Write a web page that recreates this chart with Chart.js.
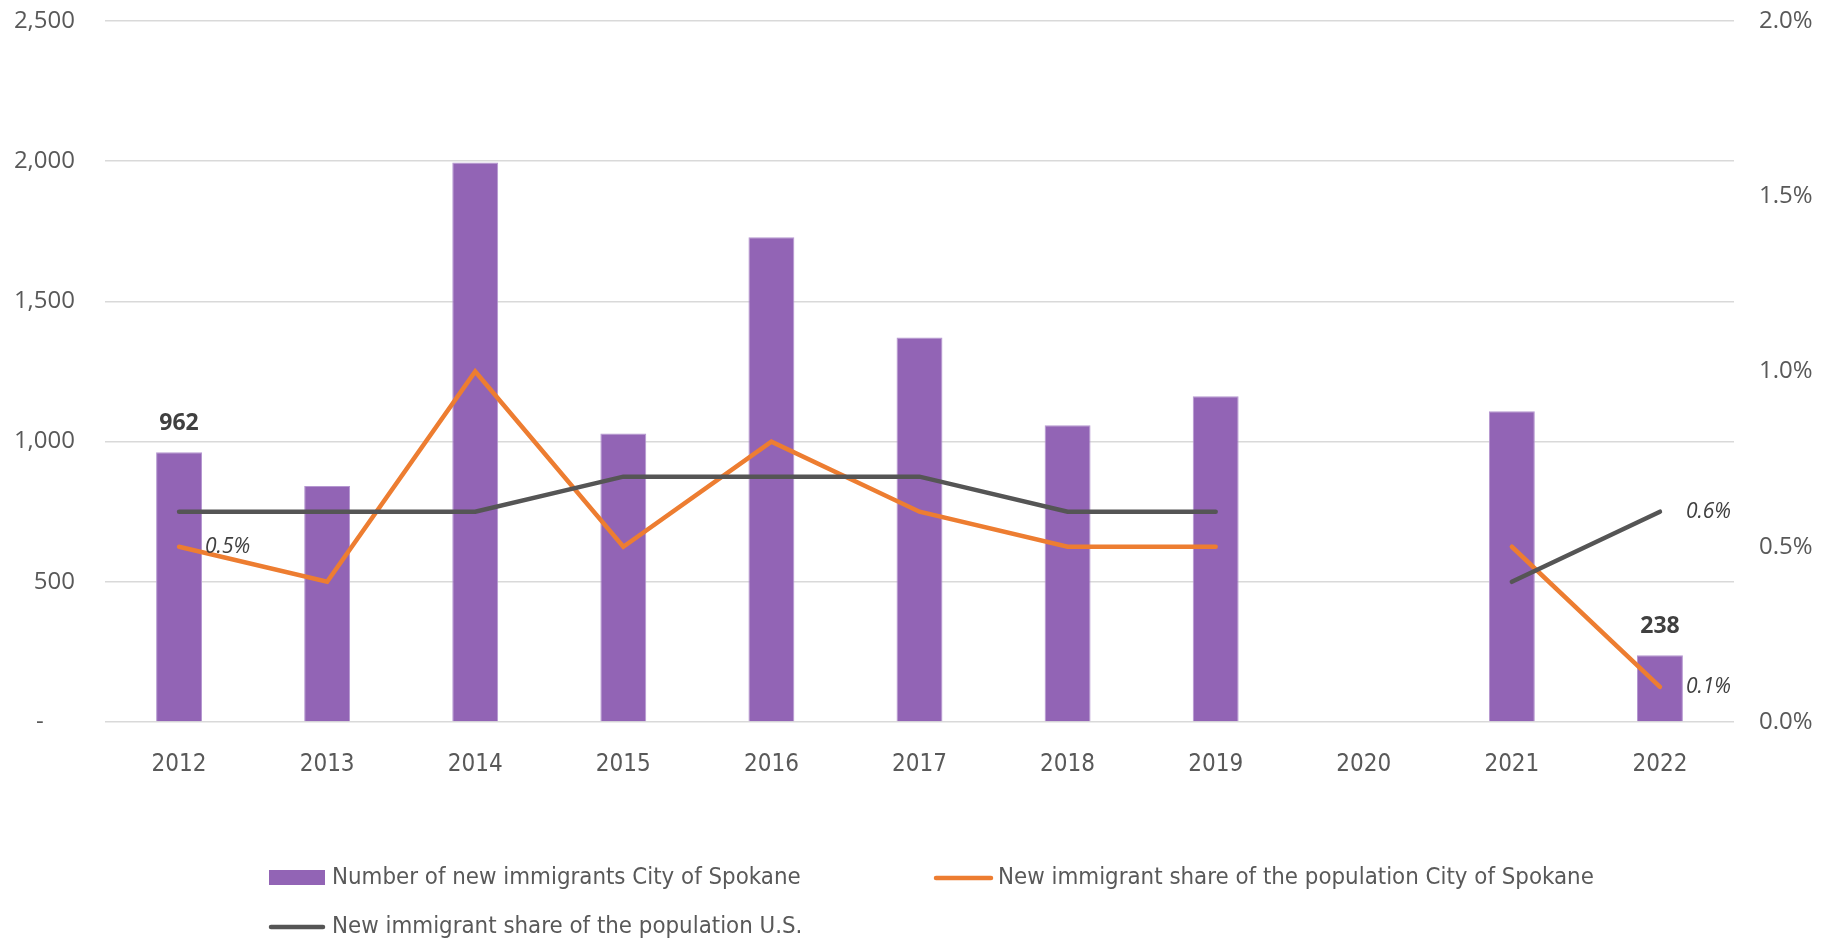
<!DOCTYPE html>
<html>
<head>
<meta charset="utf-8">
<script src="https://cdn.jsdelivr.net/npm/chart.js@4"></script>
<style>
  body { margin: 0; background: #fff; }
  #wrap { position: relative; width: 1832px; height: 942px; }
</style>
</head>
<body>
<div id="wrap"><canvas id="chart"></canvas></div>
<script>
// Dados
const years = ['2012', '2013', '2014', '2015', '2016', '2017', '2018', '2019', '2020', '2021', '2022'];
const newImmigrants = [962, 842, 1995, 1029, 1729, 1371, 1058, 1162, null, 1108, 238];
const spokaneShare = [0.5, 0.4, 1.0, 0.5, 0.8, 0.6, 0.5, 0.5, null, 0.5, 0.1];
const usShare = [0.6, 0.6, 0.6, 0.7, 0.7, 0.7, 0.6, 0.6, null, 0.4, 0.6];
const seriesNames = [
    'Number of new immigrants City of Spokane',
    'New immigrant share of the population City of Spokane',
    'New immigrant share of the population U.S.'
];

const PURPLE = '#9264b5';
const ORANGE = '#ed7d31';
const GRAY = '#555555';
const TEXT = '#595959';
const NARROW = '"Liberation Sans Narrow", "DejaVu Sans Condensed", sans-serif';

// Rótulos de dados (só alguns pontos, como no original)
const barLabels = { 0: true, 10: true };
const lineLabels = [
    { ds: 1, idx: 0 },
    { ds: 1, idx: 10 },
    { ds: 2, idx: 10 }
];

const dataLabelsPlugin = {
    id: 'dataLabels',
    afterDatasetsDraw(chart) {
        const ctx = chart.ctx;
        ctx.save();
        const barMeta = chart.getDatasetMeta(0);
        ctx.font = 'bold 23px "Open Sans", sans-serif';
        ctx.fillStyle = '#404040';
        ctx.textAlign = 'center';
        ctx.textBaseline = 'middle';
        barMeta.data.forEach((bar, i) => {
            if (!barLabels[i]) return;
            ctx.fillText(String(newImmigrants[i]), bar.x, bar.y - 29);
        });
        ctx.font = 'italic 21px "Open Sans", sans-serif';
        ctx.textAlign = 'left';
        lineLabels.forEach(l => {
            const pt = chart.getDatasetMeta(l.ds).data[l.idx];
            const v = chart.data.datasets[l.ds].data[l.idx];
            ctx.fillText(v.toFixed(1) + '%', pt.x + 26, pt.y);
        });
        ctx.restore();
    }
};

// Legenda desenhada à mão (duas linhas, alinhada à esquerda)
const legendPlugin = {
    id: 'customLegend',
    afterDraw(chart) {
        const ctx = chart.ctx;
        ctx.save();
        ctx.font = '23.8px ' + NARROW;
        ctx.textBaseline = 'middle';
        ctx.textAlign = 'left';

        ctx.fillStyle = PURPLE;
        ctx.fillRect(269, 870, 56, 15);
        ctx.fillStyle = TEXT;
        ctx.fillText(seriesNames[0], 332, 878);

        ctx.lineCap = 'round';
        ctx.lineWidth = 4.5;
        ctx.strokeStyle = ORANGE;
        ctx.beginPath(); ctx.moveTo(936, 878); ctx.lineTo(991, 878); ctx.stroke();
        ctx.fillText(seriesNames[1], 998, 878);

        ctx.strokeStyle = GRAY;
        ctx.beginPath(); ctx.moveTo(271, 927); ctx.lineTo(323, 927); ctx.stroke();
        ctx.fillText(seriesNames[2], 332, 927);
        ctx.restore();
    }
};

// Fixar larguras dos eixos e remover o recuo automático das etiquetas
function fixAxis(width) {
    return scale => {
        scale.width = width;
        scale.paddingTop = 0;
        scale.paddingBottom = 0;
    };
}

new Chart(document.getElementById('chart'), {
    data: {
        labels: years,
        datasets: [{
            type: 'bar',
            label: seriesNames[0],
            data: newImmigrants,
            backgroundColor: PURPLE,
            borderColor: '#b597d0',
            borderWidth: 1,
            barPercentage: 0.31,
            categoryPercentage: 1,
            yAxisID: 'y',
            order: 3
        }, {
            type: 'line',
            label: seriesNames[1],
            data: spokaneShare,
            borderColor: ORANGE,
            borderWidth: 4.5,
            borderCapStyle: 'round',
            pointRadius: 0,
            tension: 0,
            spanGaps: false,
            yAxisID: 'y1',
            order: 2
        }, {
            type: 'line',
            label: seriesNames[2],
            data: usShare,
            borderColor: GRAY,
            borderWidth: 4.5,
            borderCapStyle: 'round',
            pointRadius: 0,
            tension: 0,
            spanGaps: false,
            yAxisID: 'y1',
            order: 1
        }]
    },
    options: {
        responsive: true,
        maintainAspectRatio: false,
        animation: false,
        layout: { padding: { top: 21, left: 0, right: 0, bottom: 0 } },
        plugins: {
            legend: { display: false },
            tooltip: { enabled: false }
        },
        scales: {
            x: {
                grid: { display: false },
                border: { display: false },
                ticks: { color: TEXT, font: { size: 24, family: NARROW }, padding: 20 },
                afterFit(scale) { scale.height = 220; }
            },
            y: {
                position: 'left',
                min: 0,
                max: 2500,
                border: { display: false },
                grid: { color: '#d9d9d9', lineWidth: 1.5, drawTicks: false },
                ticks: {
                    stepSize: 500,
                    color: TEXT,
                    padding: 30,
                    font: { size: 24, family: '"Open Sans", sans-serif' },
                    callback: v => v === 0 ? '-     ' : v.toLocaleString('en-US')
                },
                afterFit: fixAxis(105)
            },
            y1: {
                position: 'right',
                min: 0,
                max: 2,
                border: { display: false },
                grid: { display: false, drawTicks: false },
                ticks: {
                    stepSize: 0.5,
                    color: TEXT,
                    padding: 25,
                    font: { size: 24, family: '"Open Sans", sans-serif' },
                    callback: v => v.toFixed(1) + '%'
                },
                afterFit: fixAxis(98)
            }
        }
    },
    plugins: [dataLabelsPlugin, legendPlugin]
});
</script>
</body>
</html>
